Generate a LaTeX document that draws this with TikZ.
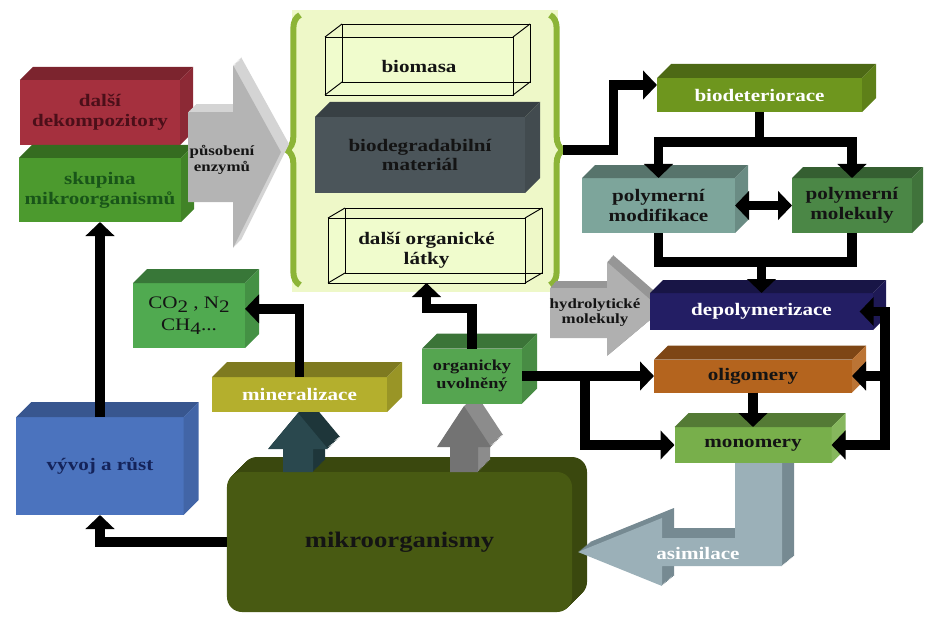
\documentclass[tikz,border=0pt]{standalone}
\usepackage{fontspec}
\setmainfont{Liberation Serif}[FakeStretch=1.2]
\usepackage{xcolor}
\usepackage{tikz}
\usetikzlibrary{arrows.meta,decorations.pathreplacing,fit}
\definecolor{panelfill}{RGB}{238,248,200}
\definecolor{bracegreen}{RGB}{140,180,55}
\definecolor{wirefill}{RGB}{240,252,205}
\definecolor{slate}{RGB}{75,85,90}
\definecolor{dekred}{RGB}{165,48,62}
\definecolor{dektext}{RGB}{75,15,25}
\definecolor{skupgreen}{RGB}{76,154,46}
\definecolor{skuptext}{RGB}{25,85,25}
\definecolor{enzgray}{RGB}{180,180,180}
\definecolor{enzlight}{RGB}{212,212,212}
\definecolor{detgreen}{RGB}{110,150,30}
\definecolor{modteal}{RGB}{125,165,155}
\definecolor{molgreen}{RGB}{75,135,70}
\definecolor{depnavy}{RGB}{35,30,100}
\definecolor{oligbrown}{RGB}{180,100,30}
\definecolor{monogreen}{RGB}{120,175,75}
\definecolor{organgreen}{RGB}{85,165,80}
\definecolor{gasgreen}{RGB}{80,170,80}
\definecolor{minolive}{RGB}{180,175,45}
\definecolor{vyvblue}{RGB}{75,115,190}
\definecolor{vyvtext}{RGB}{20,35,90}
\definecolor{mikroolive}{RGB}{72,90,18}
\definecolor{mikrodark}{RGB}{58,72,14}
\definecolor{asimblue}{RGB}{155,176,184}
\definecolor{asimdark}{RGB}{118,138,146}
\definecolor{tealarrow}{RGB}{42,72,78}
\definecolor{tealside}{RGB}{30,54,58}
\definecolor{grayarrow}{RGB}{115,115,115}
\definecolor{grayside}{RGB}{140,140,140}
\definecolor{hydgray}{RGB}{176,176,176}
\definecolor{hydside}{RGB}{150,150,150}
\definecolor{ink}{RGB}{20,20,20}

\newcommand{\cubefaces}[4]{%
  \fill[#3] (#1.north west) -- ([shift={(#2,-#2)}]#1.north west) -- ([shift={(#2,-#2)}]#1.north east) -- (#1.north east) -- cycle;
  \fill[#4] (#1.north east) -- ([shift={(#2,-#2)}]#1.north east) -- ([shift={(#2,-#2)}]#1.south east) -- (#1.south east) -- cycle;}
\newcommand{\wirebox}[3]{%
  \draw[line width=0.8pt] ([shift={(#2,-#3)}]#1.north west) rectangle ([shift={(#2,-#3)}]#1.south east);
  \foreach \c in {north west,north east,south east,south west}
    \draw[line width=0.8pt] (#1.\c) -- ([shift={(#2,-#3)}]#1.\c);}
\newcommand{\extrude}[5]{%
  \foreach \s in {10,9,...,1}
    \fill[#4, shift={({#1*\s/10},{-#2*\s/10})}] #5;
  \fill[#3] #5;}

\begin{document}
\begin{tikzpicture}[x=0.03cm, y=-0.03cm,
  cube/.style={rectangle, inner sep=1pt, outer sep=0pt, align=center, text=ink, font=\fontsize{15}{17}\selectfont\bfseries},
  wire/.style={cube, draw=black, line width=0.8pt, fill=wirefill},
  note/.style={align=center, text=ink, font=\fontsize{12}{13}\selectfont\bfseries},
  flow/.style={line width=0.28cm, -{Triangle[length=0.42cm, width=0.85cm]}},
  link/.style={line width=0.28cm},
  twoway/.style={line width=0.28cm, {Triangle[length=0.42cm, width=0.85cm]}-{Triangle[length=0.42cm, width=0.85cm]}},
  curl/.style={line width=0.18cm, bracegreen, decorate, decoration={brace, amplitude=0.4cm, aspect=0.5}}]

\useasboundingbox (0,0) rectangle (929,619);

\fill[panelfill] (292,10) rectangle (558,292);
\node[fit={(287,15) (563,285)}, inner sep=0pt] (panel) {};
\draw[curl] (300,285) -- (300,15);
\draw[curl] (550,15) -- (550,285);

\node[wire, minimum width=5.64cm, minimum height=1.74cm] (biomasa) at (419,66) {biomasa};
\wirebox{biomasa}{17}{13}
\node[cube, fill=slate, minimum width=6.3cm, minimum height=2.28cm] (biodeg) at (420,155) {biodegradabilní\\materiál};
\cubefaces{biodeg}{15}{slate!75!black}{slate!88!black}
\node[wire, minimum width=5.91cm, minimum height=1.95cm] (dalsi) at (426.5,250.5) {další organické\\látky};
\wirebox{dalsi}{17}{10}

\node[cube, fill=dekred, text=dektext, minimum width=4.8cm, minimum height=1.95cm] (dek) at (100,112.5) {další\\dekompozitory};
\cubefaces{dek}{13}{dekred!75!black}{dekred!85!black}
\node[cube, fill=skupgreen, text=skuptext, minimum width=4.86cm, minimum height=1.92cm] (skup) at (100,190) {skupina\\mikroorganismů};
\cubefaces{skup}{13}{skupgreen!70!black}{skupgreen!85!black}

\extrude{8}{8}{enzgray}{enzlight}{(188,112) -- (233,112) -- (233,65) -- (281,152) -- (233,248) -- (233,202) -- (188,202) -- cycle}
\node[note] (enzym) at (222,160) {působení\\enzymů};

\foreach \d in {1,...,15}
  \fill[mikrodark, rounded corners=0.45cm] (227+\d,472-\d) rectangle (572+\d,612-\d);
\node[cube, fill=mikroolive, rounded corners=0.45cm, minimum width=10.35cm, minimum height=4.2cm, font=\fontsize{19}{21}\selectfont\bfseries] (mikro) at (399.5,542) {mikroorganismy};

\extrude{12}{12}{tealarrow}{tealside}{(283,472) -- (283,449) -- (268,449) -- (298,413) -- (328,449) -- (313,449) -- (313,472) -- cycle}
\extrude{12}{12}{grayarrow}{grayside}{(450,472) -- (450,447) -- (437,447) -- (464,406) -- (491,447) -- (478,447) -- (478,472) -- cycle}

\node[cube, fill=vyvblue, text=vyvtext, minimum width=5.01cm, minimum height=2.94cm] (vyvoj) at (100,466) {vývoj a růst};
\cubefaces{vyvoj}{15}{vyvblue!75!black}{vyvblue!88!black}
\node[cube, fill=gasgreen, font=\fontsize{15}{19}\selectfont, minimum width=3.36cm, minimum height=1.95cm] (plyny) at (189,315.5) {CO\raisebox{-0.5ex}{2} , N\raisebox{-0.5ex}{2}\\CH\raisebox{-0.5ex}{4}...};
\cubefaces{plyny}{14}{gasgreen!70!black}{gasgreen!85!black}
\node[cube, fill=minolive, text=white, minimum width=5.25cm, minimum height=1.05cm] (miner) at (299.5,394.5) {mineralizace};
\cubefaces{miner}{15}{minolive!70!black}{minolive!85!black}
\node[cube, fill=organgreen, font=\fontsize{13}{15}\selectfont\bfseries, minimum width=3cm, minimum height=1.65cm] (organ) at (472,376) {organicky\\uvolněný};
\cubefaces{organ}{15}{organgreen!70!black}{organgreen!85!black}

\extrude{6}{7}{hydgray}{hydside}{(550,288) -- (607,288) -- (607,262) -- (662,310) -- (607,356) -- (607,338) -- (550,338) -- cycle}
\node[note] (hydro) at (595,313) {hydrolytické\\molekuly};

\extrude{12}{10}{asimblue}{asimdark}{(735,460) -- (782,460) -- (782,566) -- (662,566) -- (662,586) -- (578,552) -- (662,518) -- (662,538) -- (735,538) -- cycle}
\node[cube, text=white] (asim) at (698,553) {asimilace};

\node[cube, fill=detgreen, text=white, minimum width=6.15cm, minimum height=1.02cm] (biodet) at (759.5,95) {biodeteriorace};
\cubefaces{biodet}{14}{detgreen!70!black}{detgreen!85!black}
\node[cube, fill=modteal, minimum width=4.59cm, minimum height=1.65cm] (polmod) at (658.5,205.5) {polymerní\\modifikace};
\cubefaces{polmod}{13}{modteal!70!black}{modteal!85!black}
\node[cube, fill=molgreen, minimum width=3.6cm, minimum height=1.65cm] (polmol) at (852,205.5) {polymerní\\molekuly};
\cubefaces{polmol}{11}{molgreen!70!black}{molgreen!85!black}
\node[cube, fill=depnavy, text=white, minimum width=6.69cm, minimum height=1.11cm] (depol) at (761.5,311.5) {depolymerizace};
\cubefaces{depol}{13}{depnavy!70!black}{depnavy!85!black}
\node[cube, fill=oligbrown, minimum width=5.94cm, minimum height=0.99cm] (olig) at (753,376) {oligomery};
\cubefaces{olig}{14}{oligbrown!70!black}{oligbrown!90!white}
\node[cube, fill=monogreen, minimum width=4.71cm, minimum height=1.08cm] (mono) at (753,445) {monomery};
\cubefaces{mono}{14}{monogreen!70!black}{monogreen!90!white}

\coordinate (fork) at (585,376);
\coordinate (merge) at (761.5,262);
\coordinate (rbus) at (885,445);

\draw[flow] (vyvoj.north) -- (skup.south);
\draw[flow] (mikro.west) -| (vyvoj.south);
\draw[flow] (miner.north) |- ([yshift=2mm]plyny.east);
\draw[flow] (organ.north) -- ++(0,-40) -| (dalsi.south);
\draw[flow] (organ.east) -- (olig.west);
\draw[flow, line cap=rect] (fork) |- (mono.west);
\draw[flow] (olig.south) -- (mono.north);
\draw[flow] (rbus) |- ([xshift=-4mm]depol.east);
\draw[flow] (olig.east -| rbus) -- (olig.east);
\draw[flow, line cap=rect] (rbus) -- (mono.east);
\draw[link] (polmod.south) -- ++(0,29) -| (polmol.south);
\draw[flow] (merge) -- (depol.north);
\draw[flow] (biodet.south) -- ++(0,30) -| (polmod.north);
\draw[flow] (biodet.south) -- ++(0,30) -| (polmol.north);
\draw[flow] (panel.east) -- ++(50,0) |- ([yshift=3mm]biodet.west);
\draw[twoway] (polmod.east) -- (polmol.west);
\end{tikzpicture}
\end{document}
